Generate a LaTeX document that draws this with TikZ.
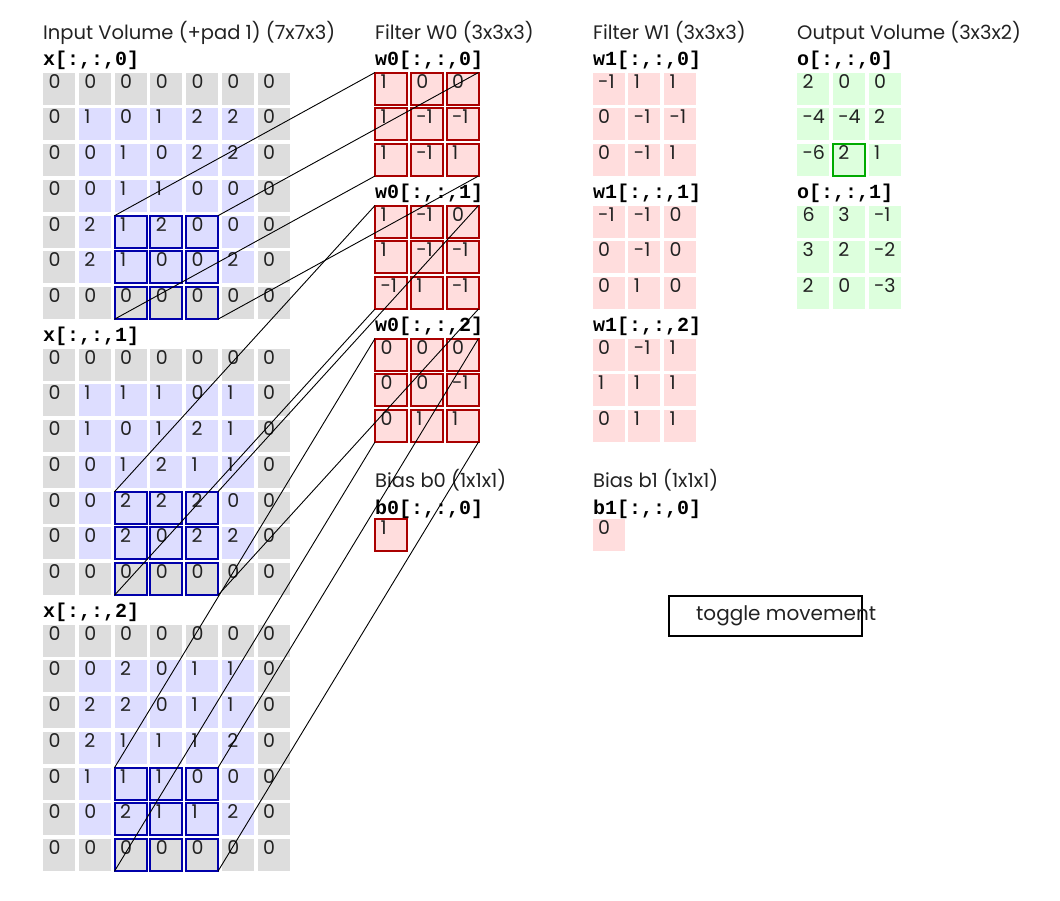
\documentclass[tikz,border=0pt]{standalone}
\usepackage{fontspec}
\setmainfont{Poppins}
\newfontfamily\labfont{Liberation Mono}
\definecolor{padc}{HTML}{DDDDDD}
\definecolor{inc}{HTML}{DDDDFF}
\definecolor{wc}{HTML}{FFDDDD}
\definecolor{oc}{HTML}{DDFFDD}
\definecolor{bb}{HTML}{0000AA}
\definecolor{rb}{HTML}{AA0000}
\definecolor{gb}{HTML}{00AA00}
\definecolor{txt}{HTML}{222222}
\tikzset{
  cell/.style={rectangle, anchor=north west, inner xsep=5.5pt, inner ysep=0pt, outer sep=0pt,
    text width=21pt, text height=15.5pt, text depth=16.5pt, align=left,
    minimum width=32pt, minimum height=32pt, line width=2pt, text=txt,
    font=\fontsize{19}{19}\selectfont},
  ttl/.style={anchor=base west, inner sep=0pt, text=txt, font=\fontsize{19.5}{20}\selectfont},
  lab/.style={anchor=base west, inner sep=0pt, font=\labfont\bfseries\fontsize{20}{20}\selectfont},
  link/.style={draw=black, line width=0.9pt},
  btn/.style={rectangle, anchor=north west, draw=black, line width=2pt, fill=white,
    minimum width=193pt, minimum height=40pt, inner sep=0pt},
  btntxt/.style={anchor=base west, inner sep=0pt, text=txt, font=\fontsize{20}{20}\selectfont}
}
% input grid: #1 name, #2 x, #3 y, #4 data
\newcommand\mkin[4]{%
  \foreach \rowv [count=\r from 0] in {#4} {
    \foreach \v [count=\c from 0] in \rowv {
      \pgfmathtruncatemacro\pad{or(or(\r==0,\r==6),or(\c==0,\c==6))}
      \pgfmathtruncatemacro\win{and(and(\r>=4,\c>=2),\c<=4)}
      \ifnum\pad=1 \def\fc{padc}\else\def\fc{inc}\fi
      \ifnum\win=1 \def\dc{bb}\else\def\dc{none}\fi
      \node[cell, fill=\fc, draw=\dc] (#1-\r-\c) at (#2+\c*35.75, #3+\r*35.75) {\mbox{\v}};
    }
  }
}
% small grid: #1 name, #2 x, #3 y, #4 fill, #5 border, #6 data
\newcommand\mksm[6]{%
  \foreach \rowv [count=\r from 0] in {#6} {
    \foreach \v [count=\c from 0] in \rowv {
      \node[cell, fill=#4, draw=#5] (#1-\r-\c) at (#2+\c*35.75, #3+\r*35.75) {\mbox{\v}};
    }
  }
}
\begin{document}
\begin{tikzpicture}[x=1pt, y=-1pt]
\useasboundingbox (0,0) rectangle (1060,900);
\fill[white] (0,0) rectangle (1060,900);
% titles
\node[ttl] (t-in) at (43,39) {Input Volume (+pad 1) (7x7x3)};
\node[ttl] (t-w0) at (375,39) {Filter W0 (3x3x3)};
\node[ttl] (t-w1) at (593,39) {Filter W1 (3x3x3)};
\node[ttl] (t-out) at (797,39) {Output Volume (3x3x2)};
% input volume
\node[lab] (l-x0) at (43,65) {x[:,:,0]};
\mkin{x0}{43}{72.7}{{0,0,0,0,0,0,0},{0,1,0,1,2,2,0},{0,0,1,0,2,2,0},{0,0,1,1,0,0,0},{0,2,1,2,0,0,0},{0,2,1,0,0,2,0},{0,0,0,0,0,0,0}}
\node[lab] (l-x1) at (43,341) {x[:,:,1]};
\mkin{x1}{43}{348.7}{{0,0,0,0,0,0,0},{0,1,1,1,0,1,0},{0,1,0,1,2,1,0},{0,0,1,2,1,1,0},{0,0,2,2,2,0,0},{0,0,2,0,2,2,0},{0,0,0,0,0,0,0}}
\node[lab] (l-x2) at (43,617) {x[:,:,2]};
\mkin{x2}{43}{624.7}{{0,0,0,0,0,0,0},{0,0,2,0,1,1,0},{0,2,2,0,1,1,0},{0,2,1,1,1,2,0},{0,1,1,1,0,0,0},{0,0,2,1,1,2,0},{0,0,0,0,0,0,0}}
% filter W0
\node[lab] (l-w00) at (375,65) {w0[:,:,0]};
\mksm{wa0}{375}{72.5}{wc}{rb}{{1,0,0},{1,-1,-1},{1,-1,1}}
\node[lab] (l-w01) at (375,198) {w0[:,:,1]};
\mksm{wa1}{375}{205.5}{wc}{rb}{{1,-1,0},{1,-1,-1},{-1,1,-1}}
\node[lab] (l-w02) at (375,331) {w0[:,:,2]};
\mksm{wa2}{375}{338.5}{wc}{rb}{{0,0,0},{0,0,-1},{0,1,1}}
\node[ttl] (t-b0) at (375,487) {Bias b0 (1x1x1)};
\node[lab] (l-b0) at (375,514) {b0[:,:,0]};
\mksm{ba}{375}{519.3}{wc}{rb}{{1}}
% filter W1
\node[lab] (l-w10) at (593,65) {w1[:,:,0]};
\mksm{wb0}{592.7}{72.5}{wc}{none}{{-1,1,1},{0,-1,-1},{0,-1,1}}
\node[lab] (l-w11) at (593,198) {w1[:,:,1]};
\mksm{wb1}{592.7}{205.5}{wc}{none}{{-1,-1,0},{0,-1,0},{0,1,0}}
\node[lab] (l-w12) at (593,331) {w1[:,:,2]};
\mksm{wb2}{592.7}{338.5}{wc}{none}{{0,-1,1},{1,1,1},{0,1,1}}
\node[ttl] (t-b1) at (593,487) {Bias b1 (1x1x1)};
\node[lab] (l-b1) at (593,514) {b1[:,:,0]};
\mksm{bb}{592.7}{519.3}{wc}{none}{{0}}
% output
\node[lab] (l-o0) at (797,65) {o[:,:,0]};
\mksm{o0}{797}{72.5}{oc}{none}{{2,0,0},{-4,-4,2},{-6,2,1}}
\node[lab] (l-o1) at (797,198) {o[:,:,1]};
\mksm{o1}{797}{205.5}{oc}{none}{{6,3,-1},{3,2,-2},{2,0,-3}}
\draw[gb, line width=2pt] (o0-2-1.north west) rectangle (o0-2-1.south east);
% button
\node[btn] (toggle) at (668,595) {};
\node[btntxt] (toggletxt) at (696,620) {toggle movement};
% connectors
\foreach \s in {0,1,2} {
  \draw[link] (x\s-4-2.north west) -- (wa\s-0-0.north west);
  \draw[link] (x\s-4-4.north east) -- (wa\s-0-2.north east);
  \draw[link] (x\s-6-2.south west) -- (wa\s-2-0.south west);
  \draw[link] (x\s-6-4.south east) -- (wa\s-2-2.south east);
}
\end{tikzpicture}
\end{document}
